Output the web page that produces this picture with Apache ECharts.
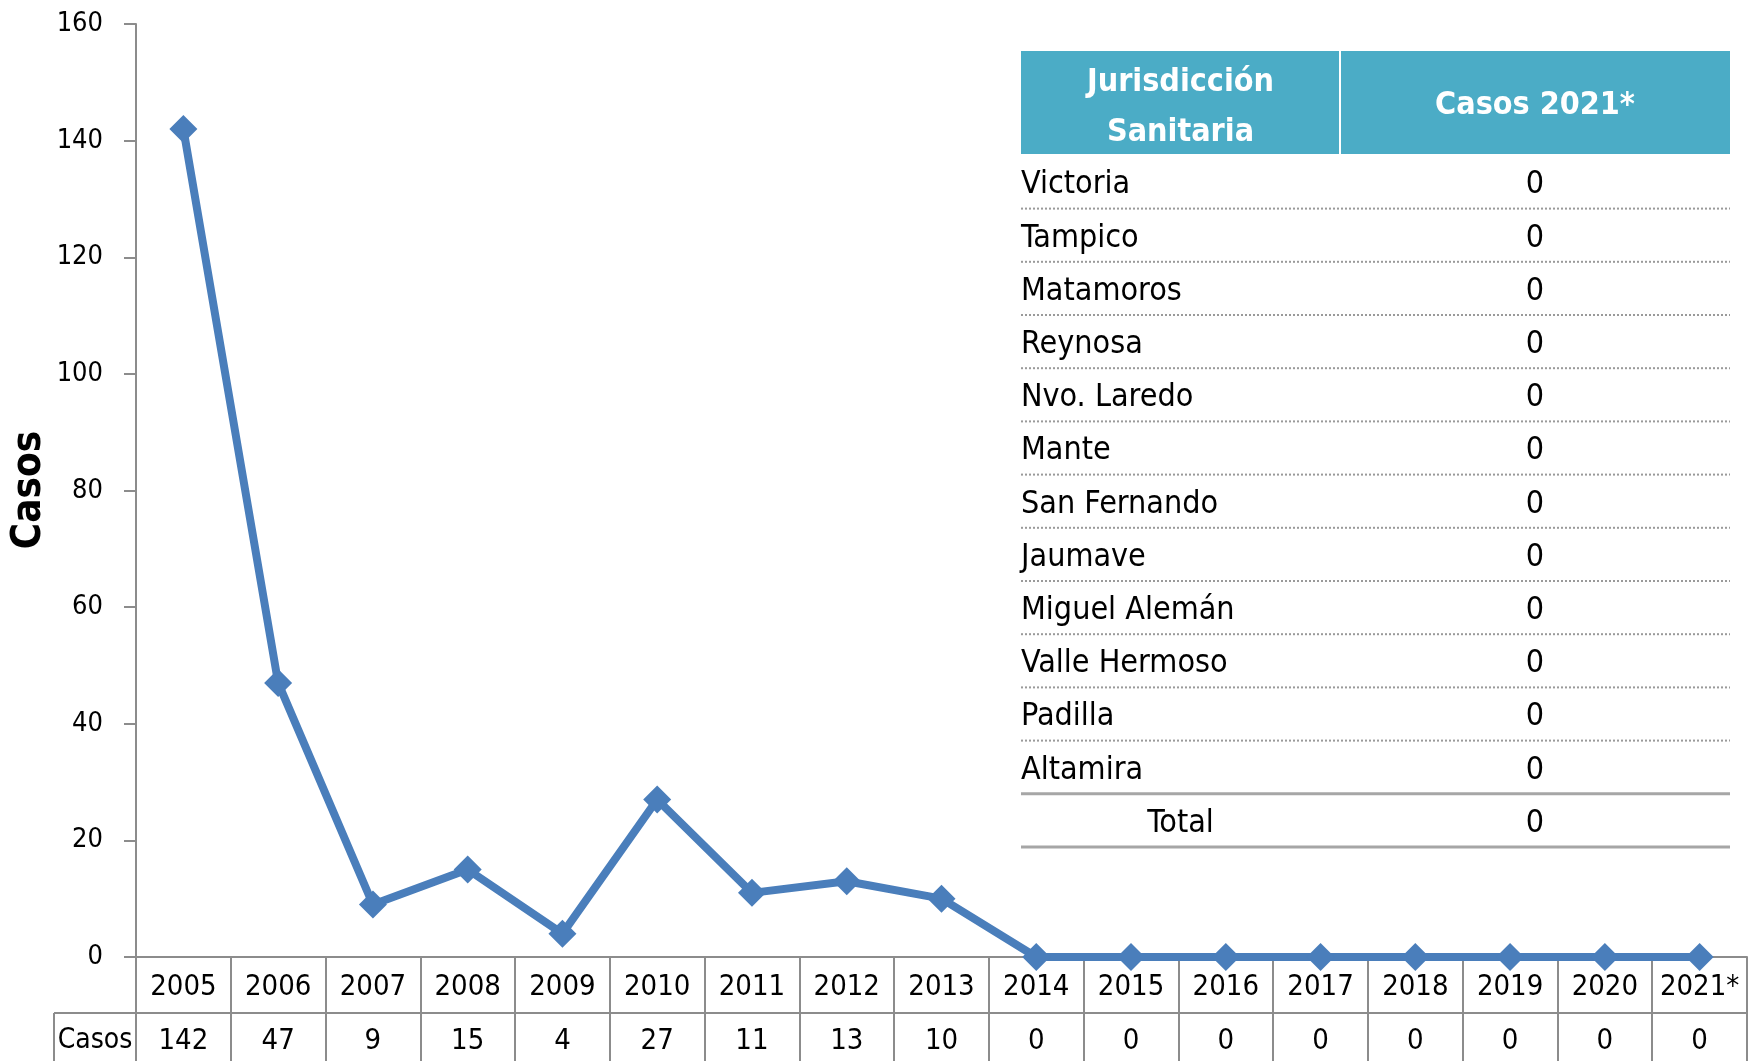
<!DOCTYPE html>
<html>
<head>
<meta charset="utf-8">
<script src="https://cdn.jsdelivr.net/npm/echarts@6/dist/echarts.min.js"></script>
<style>
html,body{margin:0;padding:0;background:#fff;}
#chart{width:1752px;height:1061px;}
</style>
</head>
<body>
<div id="chart"></div>
<script>
const years = ['2005','2006','2007','2008','2009','2010','2011','2012','2013','2014','2015','2016','2017','2018','2019','2020','2021*'];
const casos = [142,47,9,15,4,27,11,13,10,0,0,0,0,0,0,0,0];
const yTicks = {min:0, max:160, interval:20};
const jurisdicciones = ['Victoria','Tampico','Matamoros','Reynosa','Nvo. Laredo','Mante','San Fernando','Jaumave','Miguel Alemán','Valle Hermoso','Padilla','Altamira'];
const casos2021 = [0,0,0,0,0,0,0,0,0,0,0,0];
const totalLabel = 'Total';
const header1 = ['Jurisdicción','Sanitaria'];
const header2 = 'Casos 2021*';
const yTitle = 'Casos';

const FONT = "'Liberation Sans Narrow','DejaVu Sans Condensed','Arial Narrow',sans-serif";
const GRAY = '#8c8c8c';

const chart = echarts.init(document.getElementById('chart'));

// table inset geometry
const tX0 = 1021, tX1 = 1730, tDiv = 1340, hY0 = 51, hY1 = 154;
const rowY0 = 185, rowH = 53.2;
const graphics = [];
graphics.push({type:'text', x:30, y:490, rotation:Math.PI/2, style:{text:yTitle, fill:'#000', font:'bold 40px '+FONT, align:'center', verticalAlign:'middle'}});
graphics.push({type:'rect', shape:{x:tX0, y:hY0, width:tX1-tX0, height:hY1-hY0}, style:{fill:'#4BACC6'}});
graphics.push({type:'line', shape:{x1:tDiv, y1:hY0, x2:tDiv, y2:hY1}, style:{stroke:'#fff', lineWidth:2}});
graphics.push({type:'text', x:(tX0+tDiv)/2, y:83, style:{text:header1[0], fill:'#fff', font:'bold 32px '+FONT, align:'center', verticalAlign:'middle'}});
graphics.push({type:'text', x:(tX0+tDiv)/2, y:133, style:{text:header1[1], fill:'#fff', font:'bold 32px '+FONT, align:'center', verticalAlign:'middle'}});
graphics.push({type:'text', x:(tDiv+tX1)/2, y:106, style:{text:header2, fill:'#fff', font:'bold 32px '+FONT, align:'center', verticalAlign:'middle'}});
jurisdicciones.forEach((n,i)=>{
  const cy = rowY0 + i*rowH;
  graphics.push({type:'text', x:tX0, y:cy, style:{text:n, fill:'#000', font:'32px '+FONT, align:'left', verticalAlign:'middle'}});
  graphics.push({type:'text', x:(tDiv+tX1)/2, y:cy, style:{text:String(casos2021[i]), fill:'#000', font:'32px '+FONT, align:'center', verticalAlign:'middle'}});
  const ly = rowY0 - 3 + i*rowH + rowH/2;
  if (i < jurisdicciones.length-1) {
    graphics.push({type:'line', shape:{x1:tX0, y1:ly, x2:tX1, y2:ly}, style:{stroke:'#9a9a9a', lineWidth:2, lineDash:[2,2]}});
  } else {
    graphics.push({type:'line', shape:{x1:tX0, y1:ly, x2:tX1, y2:ly}, style:{stroke:'#a6a6a6', lineWidth:3}});
  }
});
const totY = rowY0 + jurisdicciones.length*rowH;
const totalVal = casos2021.reduce((a,b)=>a+b,0);
graphics.push({type:'text', x:(tX0+tDiv)/2, y:totY, style:{text:totalLabel, fill:'#000', font:'32px '+FONT, align:'center', verticalAlign:'middle'}});
graphics.push({type:'text', x:(tDiv+tX1)/2, y:totY, style:{text:String(totalVal), fill:'#000', font:'32px '+FONT, align:'center', verticalAlign:'middle'}});
graphics.push({type:'line', shape:{x1:tX0, y1:totY-3+rowH/2, x2:tX1, y2:totY-3+rowH/2}, style:{stroke:'#a6a6a6', lineWidth:3}});

// data-table row label cell
graphics.push({type:'line', shape:{x1:54, y1:1013, x2:136, y2:1013}, style:{stroke:GRAY, lineWidth:2}});
graphics.push({type:'line', shape:{x1:54, y1:1013, x2:54, y2:1061}, style:{stroke:GRAY, lineWidth:2}});
graphics.push({type:'text', x:95, y:1041, style:{text:'Casos', fill:'#000', font:'28px '+FONT, align:'center', verticalAlign:'middle'}});

chart.setOption({
  animation:false,
  backgroundColor:'#fff',
  grid:{left:136, right:5, top:24, bottom:104, containLabel:false, outerBoundsMode:'none'},
  xAxis:[
    {type:'category', data:years, position:'bottom', boundaryGap:true,
     axisLine:{show:true, lineStyle:{color:GRAY, width:2}},
     axisTick:{show:true, length:56, alignWithLabel:false, interval:0, lineStyle:{color:GRAY, width:2}},
     axisLabel:{interval:0, color:'#000', fontSize:29, fontFamily:FONT, margin:30, verticalAlign:'middle'},
     splitLine:{show:false}},
    {type:'category', data:years, position:'bottom', offset:56, boundaryGap:true,
     axisLine:{show:true, lineStyle:{color:GRAY, width:2}},
     axisTick:{show:true, length:60, alignWithLabel:false, interval:0, lineStyle:{color:GRAY, width:2}},
     axisLabel:{interval:0, color:'#000', fontSize:29, fontFamily:FONT, margin:28, verticalAlign:'middle',
       formatter:(v,i)=>String(casos[i])},
     splitLine:{show:false}}
  ],
  yAxis:{type:'value', min:yTicks.min, max:yTicks.max, interval:yTicks.interval,
    axisLine:{show:true, lineStyle:{color:GRAY, width:2}},
    axisTick:{show:true, length:12, lineStyle:{color:GRAY, width:2}},
    axisLabel:{color:'#000', fontSize:27, fontFamily:FONT, margin:33},
    splitLine:{show:false}},
  series:[{type:'line', data:casos, xAxisIndex:0,
    lineStyle:{color:'#4A7EBB', width:8},
    itemStyle:{color:'#4A7EBB'},
    symbol:'diamond', symbolSize:28, showSymbol:true, clip:false}],
  graphic:graphics
});
</script>
</body>
</html>
